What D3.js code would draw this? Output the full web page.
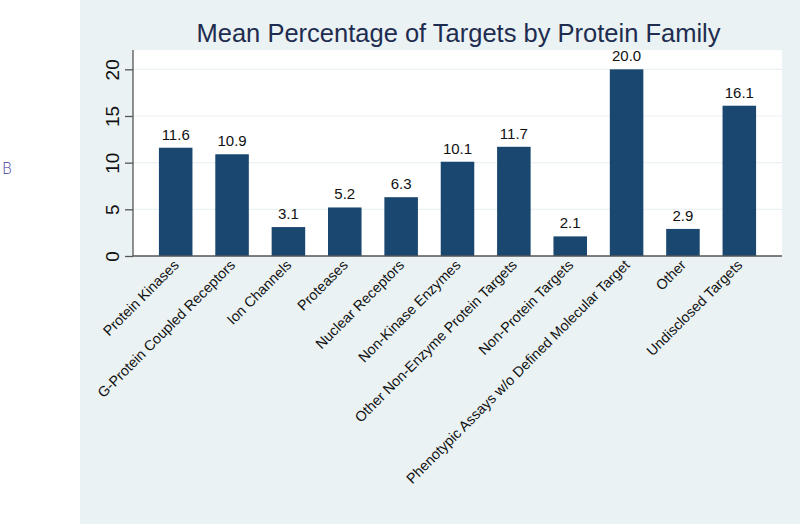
<!DOCTYPE html>
<html><head><meta charset="utf-8">
<script src="https://cdn.jsdelivr.net/npm/d3@7"></script>
<style>body{margin:0;background:#fff;}svg{display:block;} text{font-family:"Liberation Sans",Arial,sans-serif;}</style>
</head><body>
<svg id="c" width="800" height="524"></svg>
<script>
const categories = ["Protein Kinases","G-Protein Coupled Receptors","Ion Channels","Proteases","Nuclear Receptors","Non-Kinase Enzymes","Other Non-Enzyme Protein Targets","Non-Protein Targets","Phenotypic Assays w/o Defined Molecular Target","Other","Undisclosed Targets"];
const values = [11.6,10.9,3.1,5.2,6.3,10.1,11.7,2.1,20.0,2.9,16.1];
const yTicks = [0,5,10,15,20];
const title = "Mean Percentage of Targets by Protein Family";

const svg = d3.select("#c");
svg.append("rect").attr("x",80).attr("y",0).attr("width",720).attr("height",524).attr("fill","#eaf2f3");
svg.append("text").attr("x",2).attr("y",174).attr("font-size",15).attr("fill","#3a3aa0").style("font-family","'DejaVu Sans'").attr("font-weight",200).text("B");

const L=133,R=782,T=50,B=256;
svg.append("rect").attr("x",L).attr("y",T).attr("width",R-L).attr("height",B-T).attr("fill","#ffffff");

const x = d3.scaleBand().domain(categories).range([L,R]).paddingInner(0.405).paddingOuter(0.46);
const y = d3.scaleLinear().domain([0,22.07]).range([B,T]);

svg.append("g").selectAll("line").data(yTicks.filter(d=>d>0)).join("line")
  .attr("x1",L).attr("x2",R).attr("y1",d=>y(d)).attr("y2",d=>y(d))
  .attr("stroke","#eaf2f3").attr("stroke-width",1.2);

svg.append("g").selectAll("rect").data(values).join("rect")
  .attr("x",(d,i)=>x(categories[i])).attr("width",x.bandwidth())
  .attr("y",d=>y(d)).attr("height",d=>B-y(d)).attr("fill","#1a476f");

svg.append("g").selectAll("text").data(values).join("text")
  .attr("x",(d,i)=>x(categories[i])+x.bandwidth()/2).attr("y",d=>y(d)-8)
  .attr("text-anchor","middle").attr("font-size",15).attr("fill","#111")
  .text(d=>d.toFixed(1));

const ya = svg.append("g").attr("transform",`translate(${L},0)`)
  .call(d3.axisLeft(y).tickValues(yTicks).tickSize(8).tickPadding(0).tickFormat(d3.format("d")));
ya.attr("font-family",null);
ya.select(".domain").attr("stroke","#555").attr("stroke-width",1.3).attr("d",`M0,${T}V${B}`);
ya.selectAll(".tick line").attr("stroke","#555").attr("stroke-width",1.3);
ya.selectAll(".tick text").attr("font-size",19).attr("fill","#111")
  .attr("transform","translate(-21,0) rotate(-90)").attr("text-anchor","middle").attr("dy","0.35em").attr("x",0);

const xa = svg.append("g").attr("transform",`translate(0,${B})`)
  .call(d3.axisBottom(x).tickSize(0).tickPadding(0));
xa.attr("font-family",null);
xa.select(".domain").attr("stroke","#555").attr("stroke-width",1.3).attr("d",`M${L},0H${R}`);
xa.selectAll(".tick text").attr("font-size",14.3).attr("fill","#111")
  .attr("text-anchor","end").attr("dy",0).attr("y",0)
  .attr("transform","translate(4,10) rotate(-45)");

svg.append("text").attr("x",(L+R)/2+1).attr("y",42).attr("text-anchor","middle")
  .attr("font-size",25.5).attr("fill","#1e2c50").text(title);
</script>
</body></html>
